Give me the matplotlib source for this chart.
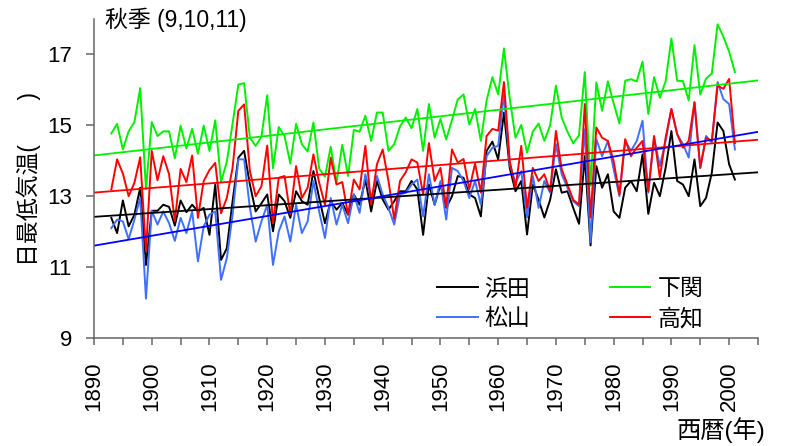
import numpy as np
import matplotlib
matplotlib.use("Agg")
import matplotlib.pyplot as plt

plt.rcParams['font.family'] = ['Liberation Sans', 'Noto Sans CJK JP', 'DejaVu Sans']

# years 1893-2001, autumn (Sep-Nov) mean daily minimum temperature
years = np.arange(1893, 2002)

hamada = [12.39, 11.96, 12.88, 12.15, 12.48, 13.24, 11.06, 12.59, 12.59, 12.76,
          12.70, 12.17, 12.88, 12.55, 12.76, 12.57, 12.67, 11.91, 13.33, 11.20,
          11.53, 12.86, 14.09, 14.28, 13.33, 12.57, 12.80, 13.05, 12.01, 13.05,
          12.86, 12.39, 13.14, 12.86, 12.76, 13.71, 12.95, 12.24, 12.86, 12.62,
          12.81, 12.48, 13.05, 12.76, 13.47, 12.57, 13.43, 12.91, 12.62, 12.86,
          13.14, 13.14, 13.43, 13.19, 11.91, 13.33, 12.76, 13.33, 12.67, 13.00,
          13.57, 13.52, 13.05, 12.95, 12.43, 14.28, 14.54, 14.04, 15.36, 13.80,
          13.14, 13.43, 11.92, 13.33, 12.90, 12.40, 12.90, 13.76, 13.10, 13.14,
          12.67, 12.22, 14.13, 11.61, 13.85, 13.24, 13.62, 12.57, 12.39, 13.24,
          13.43, 13.14, 14.18, 12.50, 13.38, 13.00, 13.80, 14.84, 13.43, 13.33,
          13.00, 14.04, 12.72, 12.95, 13.66, 15.08, 14.84, 13.90, 13.47]

matsuyama = [12.10, 12.34, 12.29, 11.79, 12.34, 12.95, 10.11, 12.59, 12.20, 12.57,
             12.24, 11.74, 12.39, 11.96, 12.57, 11.16, 12.15, 12.48, 12.57, 10.64,
             11.25, 12.48, 14.04, 14.04, 12.67, 11.72, 12.29, 12.76, 11.06, 12.01,
             12.43, 11.72, 12.76, 11.96, 12.29, 13.43, 12.57, 11.82, 12.95, 12.20,
             12.76, 12.24, 13.05, 12.53, 13.62, 12.95, 13.57, 13.05, 12.67, 12.20,
             13.05, 13.10, 13.33, 13.47, 12.43, 13.62, 12.76, 13.43, 12.34, 13.80,
             13.71, 13.43, 12.95, 13.43, 12.76, 14.13, 14.37, 14.42, 15.88, 13.90,
             13.38, 13.71, 12.40, 13.57, 12.67, 13.43, 13.10, 14.47, 13.62, 13.24,
             12.86, 12.72, 14.89, 11.70, 14.61, 14.13, 14.56, 13.76, 13.00, 14.56,
             14.28, 14.56, 15.13, 13.10, 14.65, 13.85, 14.56, 15.46, 14.75, 14.47,
             14.09, 15.65, 13.80, 14.70, 14.51, 16.22, 15.74, 15.60, 14.32]

shimonoseki = [14.77, 15.04, 14.32, 14.83, 15.09, 16.05, 13.20, 15.09, 14.70, 14.83,
               14.83, 14.07, 14.99, 14.35, 14.90, 14.20, 14.99, 14.28, 15.14, 13.40,
               13.97, 15.05, 16.15, 16.19, 14.65, 14.42, 14.68, 15.85, 13.79, 14.95,
               14.70, 13.92, 15.04, 14.47, 14.26, 15.08, 13.78, 13.55, 14.40, 13.38,
               14.45, 13.57, 14.87, 14.82, 15.27, 14.56, 15.36, 15.36, 14.28, 14.47,
               14.97, 15.22, 14.92, 15.46, 14.28, 15.60, 14.65, 15.18, 14.60, 15.15,
               15.73, 15.87, 15.02, 15.46, 14.56, 15.70, 16.36, 15.87, 17.17, 15.76,
               14.65, 15.01, 14.23, 14.82, 15.05, 14.56, 15.00, 16.12, 15.22, 14.82,
               14.49, 14.72, 16.50, 13.30, 16.21, 15.41, 16.24, 15.62, 15.05, 16.26,
               16.30, 16.24, 16.80, 15.32, 16.36, 15.78, 16.24, 17.45, 16.26, 16.25,
               15.70, 17.26, 15.87, 16.32, 16.46, 17.85, 17.50, 17.08, 16.50]

kochi = [13.19, 14.04, 13.64, 13.00, 13.38, 14.10, 11.45, 14.28, 13.45, 14.13,
         13.62, 12.30, 13.77, 13.40, 14.15, 12.39, 13.43, 13.74, 13.94, 12.52,
         12.95, 13.80, 15.41, 15.59, 13.71, 13.00, 13.28, 14.43, 12.24, 13.52,
         13.57, 12.48, 13.85, 12.95, 13.24, 14.18, 13.38, 12.76, 14.09, 13.33,
         13.40, 12.48, 13.47, 13.19, 14.42, 12.76, 13.90, 14.32, 13.43, 12.35,
         13.43, 13.68, 14.04, 13.95, 13.05, 14.50, 13.43, 13.80, 12.70, 14.32,
         13.95, 14.05, 13.20, 13.92, 13.10, 14.70, 14.90, 14.85, 16.22, 13.99,
         13.24, 14.42, 12.67, 13.80, 13.43, 13.62, 13.14, 14.84, 13.76, 13.33,
         12.90, 12.76, 15.60, 12.40, 14.94, 14.65, 14.56, 13.99, 13.05, 14.61,
         14.13, 14.37, 14.56, 13.14, 14.70, 13.52, 14.65, 15.46, 14.75, 14.37,
         14.56, 15.65, 13.80, 14.65, 14.56, 16.12, 16.03, 16.31, 14.50]

names = ['浜田', '松山', '下関', '高知']
series = [hamada, matsuyama, shimonoseki, kochi]
colors = ['black', '#3f6fff', '#00f000', '#ff0000']

fig = plt.figure(figsize=(7.85, 4.46), dpi=100)
ax = fig.add_axes([94/785, 1-338/446, (758-94)/785, (338-19)/446])

for name, vals, c in zip(names, series, colors):
    ax.plot(years, vals, color=c, lw=1.4, label=name)

# linear trend lines over the whole axis range
xt = np.array([1890, 2005])
for vals, c in zip([hamada, shimonoseki, kochi, matsuyama],
                   ['black', '#00f000', '#ff0000', '#0000ff']):
    k, b = np.polyfit(years, vals, 1)
    ax.plot(xt, k*xt + b, color=c, lw=1.3)

ax.set_xlim(1890, 2005)
ax.set_ylim(9, 18)
ax.set_yticks([9, 11, 13, 15, 17])
ax.set_xticks(np.arange(1890, 2006, 5))
ax.set_xticklabels([str(y) if y % 10 == 0 else '' for y in range(1890, 2006, 5)],
                   rotation=90)
for s in ['top', 'right']:
    ax.spines[s].set_visible(False)
for s in ['left', 'bottom']:
    ax.spines[s].set_color('#666666')
    ax.spines[s].set_linewidth(1.1)
ax.tick_params(axis='y', length=6, width=1.1, color='#666666', labelsize=16, pad=10)
ax.tick_params(axis='x', length=5, width=1.1, color='#666666', labelsize=16, pad=12)

ax.set_ylabel('日最低気温(       )', fontsize=16.5, labelpad=4)

fig.text(105/785, 1-20/446, '秋季 (9,10,11)', fontsize=16.5, va='center', ha='left')
fig.text(765/785, 1-430/446, '西暦(年)', fontsize=17.5, va='center', ha='right')

ax.legend(ncol=2, frameon=False, fontsize=16.5, handlelength=1.75, handletextpad=0.3,
          columnspacing=3.5, labelspacing=0.3, borderpad=0,
          loc='upper left', bbox_to_anchor=(426/785, 1-266/446),
          bbox_transform=fig.transFigure)

fig.savefig('out.png', dpi=100)
